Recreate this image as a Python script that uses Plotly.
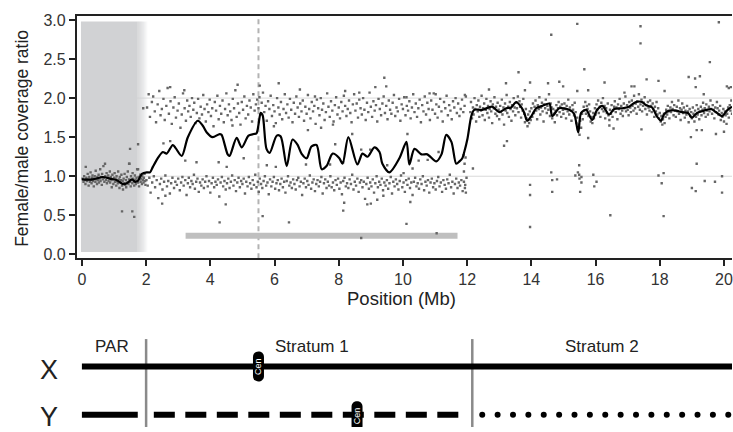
import numpy as np
import plotly.graph_objects as go

# ---------------- data ----------------
tick_mb = [0, 2, 4, 6, 8, 10, 12, 14, 16, 18, 20]
ratio_ticks = [0.0, 0.5, 1.0, 1.5, 2.0, 2.5, 3.0]

# window coverage ratios, pseudoautosomal region (0-2 Mb)
par_points = [
    (0.02, 0.97), (0.05, 0.93), (0.07, 1.0), (0.09, 0.95), (0.11, 0.9), (0.12, 1.12), (0.14, 0.98), (0.16, 0.94),
    (0.18, 1.03), (0.2, 0.96), (0.21, 0.88), (0.23, 0.99), (0.25, 0.93), (0.27, 1.05), (0.28, 0.95), (0.3, 0.91),
    (0.32, 0.98), (0.33, 1.01), (0.35, 0.94), (0.37, 0.87), (0.38, 0.97), (0.4, 1.0), (0.42, 0.93), (0.43, 1.07),
    (0.45, 0.96), (0.47, 0.9), (0.48, 0.99), (0.5, 0.95), (0.52, 1.02), (0.53, 0.92), (0.55, 0.97), (0.57, 1.09),
    (0.58, 0.94), (0.6, 0.99), (0.62, 0.89), (0.63, 1.03), (0.65, 0.96), (0.67, 1.13), (0.68, 0.98), (0.7, 0.93),
    (0.72, 1.16), (0.73, 1.0), (0.75, 0.95), (0.77, 1.04), (0.78, 0.91), (0.8, 0.98), (0.82, 1.01), (0.83, 0.94),
    (0.85, 0.97), (0.87, 1.06), (0.88, 0.92), (0.9, 0.99), (0.92, 0.95), (0.93, 0.86), (0.95, 1.02), (0.97, 0.96),
    (0.98, 0.9), (1.0, 0.98), (1.02, 1.04), (1.03, 0.93), (1.05, 0.97), (1.07, 0.88), (1.08, 1.0), (1.1, 0.94),
    (1.12, 0.91), (1.13, 1.06), (1.15, 0.96), (1.17, 0.85), (1.18, 0.99), (1.2, 0.92), (1.22, 0.95), (1.23, 1.02),
    (1.25, 0.88), (1.27, 0.94), (1.28, 0.83), (1.3, 0.97), (1.32, 0.91), (1.33, 1.03), (1.35, 0.89), (1.37, 0.95),
    (1.38, 0.86), (1.4, 0.99), (1.42, 0.92), (1.43, 1.06), (1.45, 0.9), (1.47, 0.96), (1.48, 1.16), (1.5, 0.93),
    (1.52, 0.87), (1.53, 1.0), (1.55, 0.95), (1.57, 0.91), (1.58, 1.04), (1.6, 0.97), (1.62, 0.93), (1.63, 0.88),
    (1.65, 1.01), (1.67, 0.95), (1.68, 0.9), (1.7, 0.98), (1.72, 1.09), (1.73, 0.94), (1.75, 0.92), (1.77, 0.99),
    (1.78, 0.87), (1.8, 0.96), (1.82, 1.02), (1.83, 0.93), (1.85, 0.97), (1.87, 0.9), (1.88, 1.0), (1.9, 0.95),
    (1.92, 0.92), (1.93, 0.98), (1.95, 1.03), (1.97, 0.94), (1.98, 0.89),
]

# stratum 1 windows with X-like coverage (upper band)
s1_upper = [
    (2.03, 1.88), (2.08, 2.05), (2.12, 1.76), (2.18, 1.95), (2.22, 2.02), (2.27, 1.83), (2.31, 1.69), (2.36, 1.92),
    (2.41, 2.09), (2.45, 1.78), (2.49, 1.86), (2.54, 1.99), (2.58, 1.72), (2.63, 1.9), (2.67, 2.13), (2.71, 1.8),
    (2.76, 1.96), (2.8, 1.67), (2.85, 1.88), (2.89, 2.01), (2.93, 1.75), (2.98, 1.84), (3.02, 1.93), (3.07, 1.62),
    (3.11, 1.79), (3.15, 2.06), (3.2, 1.87), (3.24, 1.71), (3.28, 1.97), (3.31, 1.83), (3.35, 1.9), (3.39, 1.76),
    (3.43, 2.0), (3.47, 1.85), (3.5, 1.94), (3.54, 1.68), (3.58, 1.81), (3.62, 1.99), (3.66, 1.74), (3.7, 1.89),
    (3.74, 1.79), (3.78, 2.04), (3.82, 1.86), (3.86, 1.7), (3.9, 1.92), (3.94, 1.82), (3.98, 1.98), (4.02, 1.77),
    (4.06, 1.87), (4.1, 1.64), (4.14, 1.95), (4.18, 1.84), (4.22, 2.03), (4.26, 1.73), (4.3, 1.9), (4.34, 1.8),
    (4.38, 1.97), (4.42, 1.69), (4.46, 1.86), (4.5, 2.06), (4.54, 1.78), (4.58, 1.92), (4.62, 1.83), (4.66, 1.72),
    (4.7, 1.99), (4.74, 1.87), (4.78, 2.1), (4.82, 1.76), (4.86, 1.93), (4.9, 1.81), (4.94, 1.66), (4.98, 1.95),
    (5.02, 1.85), (5.06, 2.02), (5.1, 1.74), (5.14, 1.9), (5.18, 1.79), (5.22, 1.97), (5.26, 1.88), (5.3, 1.7),
    (5.34, 2.05), (5.38, 1.84), (5.42, 1.92), (5.46, 1.98), (5.5, 1.87), (5.53, 2.01), (5.56, 1.79), (5.6, 1.94),
    (5.64, 2.07), (5.68, 1.82), (5.72, 1.9), (5.76, 1.71), (5.8, 1.96), (5.84, 1.86), (5.88, 2.03), (5.92, 1.77),
    (5.96, 1.91), (6.0, 1.83), (6.04, 1.68), (6.08, 2.0), (6.12, 1.88), (6.16, 1.79), (6.2, 1.95), (6.24, 1.73),
    (6.28, 1.86), (6.32, 2.05), (6.36, 1.81), (6.4, 1.92), (6.44, 1.75), (6.48, 1.99), (6.52, 1.85), (6.56, 1.69),
    (6.6, 1.94), (6.64, 1.8), (6.68, 2.02), (6.72, 1.88), (6.76, 1.76), (6.8, 1.93), (6.84, 1.83), (6.88, 1.97),
    (6.92, 1.71), (6.96, 1.89), (7.0, 1.8), (7.04, 2.04), (7.08, 1.86), (7.12, 1.74), (7.16, 1.95), (7.2, 1.83),
    (7.24, 1.9), (7.28, 1.67), (7.32, 1.98), (7.36, 1.87), (7.4, 1.78), (7.44, 2.0), (7.48, 1.85), (7.52, 1.93),
    (7.56, 1.72), (7.6, 1.82), (7.64, 2.06), (7.68, 1.89), (7.72, 1.76), (7.76, 1.96), (7.8, 1.84), (7.84, 1.7),
    (7.88, 1.91), (7.92, 2.01), (7.96, 1.79), (8.0, 1.88), (8.04, 1.74), (8.08, 1.95), (8.12, 1.83), (8.16, 2.03),
    (8.2, 1.9), (8.24, 1.77), (8.28, 1.86), (8.32, 1.97), (8.36, 1.81), (8.4, 1.69), (8.44, 1.92), (8.48, 2.05),
    (8.52, 1.84), (8.56, 1.93), (8.6, 1.75), (8.64, 1.98), (8.68, 1.87), (8.72, 1.79), (8.76, 2.0), (8.8, 1.85),
    (8.84, 1.72), (8.88, 1.94), (8.92, 1.82), (8.96, 2.07), (9.0, 1.89), (9.04, 1.76), (9.08, 1.96), (9.12, 1.84),
    (9.16, 1.91), (9.2, 1.7), (9.24, 1.99), (9.28, 1.86), (9.32, 1.78), (9.36, 1.93), (9.4, 2.02), (9.44, 1.81),
    (9.48, 1.9), (9.52, 1.73), (9.56, 1.97), (9.6, 1.85), (9.64, 1.8), (9.68, 1.94), (9.72, 2.04), (9.76, 1.77),
    (9.8, 1.88), (9.84, 1.83), (9.88, 1.99), (9.92, 1.71), (9.96, 1.92), (10.0, 1.86), (10.04, 2.01), (10.08, 1.78),
    (10.12, 1.9), (10.16, 1.84), (10.2, 1.96), (10.24, 1.74), (10.28, 1.88), (10.32, 2.05), (10.36, 1.82), (10.4, 1.93),
    (10.44, 1.76), (10.48, 1.87), (10.52, 1.98), (10.56, 1.69), (10.6, 1.91), (10.64, 1.83), (10.68, 2.02), (10.72, 1.79),
    (10.76, 1.94), (10.8, 1.86), (10.84, 1.72), (10.88, 1.97), (10.92, 1.85), (10.96, 2.06), (11.0, 1.8), (11.04, 1.92),
    (11.08, 1.75), (11.12, 1.89), (11.16, 1.99), (11.2, 1.83), (11.24, 1.7), (11.28, 1.95), (11.32, 1.87), (11.36, 2.03),
    (11.4, 1.78), (11.44, 1.91), (11.48, 1.84), (11.52, 1.73), (11.56, 1.96), (11.6, 1.88), (11.64, 2.0), (11.68, 1.81),
    (11.72, 1.93), (11.76, 1.77), (11.8, 1.86), (11.84, 1.98), (11.88, 1.82), (11.92, 1.9), (11.96, 2.02),
]

# stratum 1 windows with autosome-like coverage (lower band)
s1_lower = [
    (2.01, 0.95), (2.05, 0.88), (2.1, 0.98), (2.14, 0.79), (2.19, 0.92), (2.24, 1.0), (2.28, 0.86), (2.33, 0.95),
    (2.38, 0.72), (2.43, 0.9), (2.47, 0.97), (2.51, 0.83), (2.56, 0.93), (2.6, 1.01), (2.65, 0.87), (2.69, 0.94),
    (2.74, 0.78), (2.78, 0.91), (2.82, 0.98), (2.87, 0.85), (2.91, 0.93), (2.96, 0.89), (3.0, 0.97), (3.05, 0.82),
    (3.09, 0.92), (3.13, 0.99), (3.17, 0.88), (3.22, 0.95), (3.26, 0.76), (3.3, 0.91), (3.33, 0.98), (3.37, 0.86),
    (3.41, 0.94), (3.45, 0.9), (3.49, 1.02), (3.52, 0.84), (3.56, 0.93), (3.6, 0.97), (3.64, 0.8), (3.68, 0.92),
    (3.72, 0.88), (3.76, 0.96), (3.8, 0.85), (3.84, 0.93), (3.88, 1.0), (3.92, 0.87), (3.96, 0.94), (4.0, 0.79),
    (4.04, 0.91), (4.08, 0.98), (4.12, 0.86), (4.16, 0.93), (4.2, 0.89), (4.24, 0.96), (4.28, 0.74), (4.32, 0.92),
    (4.36, 0.99), (4.4, 0.87), (4.44, 0.94), (4.48, 0.83), (4.52, 0.91), (4.56, 0.97), (4.6, 0.85), (4.64, 0.93),
    (4.68, 1.01), (4.72, 0.88), (4.76, 0.95), (4.8, 0.81), (4.84, 0.92), (4.88, 0.98), (4.92, 0.86), (4.96, 0.94),
    (5.0, 0.9), (5.04, 0.97), (5.08, 0.78), (5.12, 0.93), (5.16, 0.87), (5.2, 0.99), (5.24, 0.91), (5.28, 0.84),
    (5.32, 0.95), (5.36, 0.89), (5.4, 1.02), (5.44, 0.86), (5.48, 0.93), (5.51, 0.8), (5.54, 0.97), (5.58, 0.9),
    (5.62, 0.85), (5.66, 0.94), (5.7, 1.0), (5.74, 0.88), (5.78, 0.92), (5.82, 0.77), (5.86, 0.96), (5.9, 0.87),
    (5.94, 0.93), (5.98, 0.99), (6.02, 0.84), (6.06, 0.91), (6.1, 0.95), (6.14, 0.82), (6.18, 0.9), (6.22, 0.97),
    (6.26, 0.86), (6.3, 0.93), (6.34, 0.79), (6.38, 0.94), (6.42, 1.0), (6.46, 0.88), (6.5, 0.92), (6.54, 0.85),
    (6.58, 0.96), (6.62, 0.9), (6.66, 0.83), (6.7, 0.95), (6.74, 0.98), (6.78, 0.87), (6.82, 0.93), (6.86, 0.76),
    (6.9, 0.91), (6.94, 0.97), (6.98, 0.86), (7.02, 0.94), (7.06, 0.89), (7.1, 1.01), (7.14, 0.84), (7.18, 0.92),
    (7.22, 0.96), (7.26, 0.81), (7.3, 0.9), (7.34, 0.95), (7.38, 0.87), (7.42, 0.93), (7.46, 0.99), (7.5, 0.78),
    (7.54, 0.91), (7.58, 0.96), (7.62, 0.85), (7.66, 0.93), (7.7, 0.88), (7.74, 1.0), (7.78, 0.86), (7.82, 0.92),
    (7.86, 0.82), (7.9, 0.95), (7.94, 0.89), (7.98, 0.97), (8.02, 0.84), (8.06, 0.92), (8.1, 0.77), (8.14, 0.94),
    (8.18, 0.98), (8.22, 0.87), (8.26, 0.91), (8.3, 0.85), (8.34, 0.96), (8.38, 0.9), (8.42, 1.02), (8.46, 0.83),
    (8.5, 0.93), (8.54, 0.88), (8.58, 0.97), (8.62, 0.8), (8.66, 0.92), (8.7, 0.95), (8.74, 0.86), (8.78, 0.93),
    (8.82, 0.71), (8.86, 0.9), (8.9, 0.98), (8.94, 0.84), (8.98, 0.92), (9.02, 0.87), (9.06, 0.96), (9.1, 0.79),
    (9.14, 0.91), (9.18, 1.0), (9.22, 0.86), (9.26, 0.93), (9.3, 0.89), (9.34, 0.97), (9.38, 0.82), (9.42, 0.92),
    (9.46, 0.88), (9.5, 0.95), (9.54, 0.84), (9.58, 0.91), (9.62, 0.99), (9.66, 0.78), (9.7, 0.93), (9.74, 0.87),
    (9.78, 0.96), (9.82, 0.9), (9.86, 0.83), (9.9, 0.94), (9.94, 1.01), (9.98, 0.86), (10.02, 0.92), (10.06, 0.8),
    (10.1, 0.95), (10.14, 0.89), (10.18, 0.97), (10.22, 0.85), (10.26, 0.92), (10.3, 0.76), (10.34, 0.93), (10.38, 0.98),
    (10.42, 0.87), (10.46, 0.91), (10.5, 0.84), (10.54, 0.96), (10.58, 0.9), (10.62, 1.0), (10.66, 0.82), (10.7, 0.93),
    (10.74, 0.88), (10.78, 0.95), (10.82, 0.79), (10.86, 0.92), (10.9, 0.97), (10.94, 0.86), (10.98, 0.91), (11.02, 0.83),
    (11.06, 0.94), (11.1, 0.99), (11.14, 0.87), (11.18, 0.92), (11.22, 0.8), (11.26, 0.95), (11.3, 0.89), (11.34, 0.84),
    (11.38, 0.96), (11.42, 0.91), (11.46, 1.02), (11.5, 0.86), (11.54, 0.93), (11.58, 0.78), (11.62, 0.9), (11.66, 0.97),
    (11.7, 0.85), (11.74, 0.92), (11.78, 0.88), (11.82, 0.95), (11.86, 0.81), (11.9, 0.93), (11.94, 0.89), (11.98, 0.98),
]

# stratum 2 windows (12-20.3 Mb)
s2_points = [
    (12.1, 1.82), (12.12, 1.95), (12.15, 1.74), (12.18, 1.88), (12.2, 1.79), (12.23, 2.0), (12.25, 1.86), (12.28, 1.7),
    (12.3, 1.91), (12.33, 1.83), (12.35, 1.97), (12.38, 1.76), (12.4, 1.89), (12.43, 1.84), (12.45, 2.03), (12.48, 1.78),
    (12.5, 1.87), (12.53, 1.93), (12.55, 1.72), (12.58, 1.85), (12.6, 1.99), (12.63, 1.81), (12.65, 1.9), (12.68, 1.75),
    (12.7, 1.86), (12.73, 1.96), (12.75, 1.83), (12.78, 1.68), (12.8, 1.92), (12.83, 1.87), (12.85, 2.01), (12.88, 1.8),
    (12.9, 1.89), (12.93, 1.77), (12.95, 1.94), (12.98, 1.85),
    (13.0, 1.73), (13.03, 1.9), (13.05, 1.82), (13.08, 1.98), (13.1, 1.79), (13.13, 1.88), (13.15, 1.66), (13.18, 1.93),
    (13.2, 1.84), (13.23, 2.04), (13.25, 1.81), (13.28, 1.89), (13.3, 1.76), (13.33, 1.95), (13.35, 1.86), (13.38, 1.71),
    (13.4, 1.91), (13.43, 1.83), (13.45, 2.0), (13.48, 1.88), (13.5, 1.78), (13.53, 1.94), (13.55, 1.87), (13.58, 2.02),
    (13.6, 1.82), (13.63, 1.96), (13.65, 1.89), (13.68, 1.75), (13.7, 1.92), (13.73, 1.84), (13.75, 1.99), (13.78, 1.8),
    (13.8, 1.69), (13.83, 1.86), (13.85, 1.74), (13.88, 1.64), (13.9, 1.79), (13.93, 1.68), (13.95, 1.83), (13.98, 1.72),
    (14.0, 1.87), (14.03, 1.76), (14.05, 1.93), (14.08, 1.81), (14.1, 1.89), (14.13, 1.97), (14.15, 1.84), (14.18, 1.73),
    (14.2, 1.91), (14.23, 1.86), (14.25, 2.01), (14.28, 1.79), (14.3, 1.88), (14.33, 1.94), (14.35, 1.83), (14.38, 1.7),
    (14.4, 1.92), (14.43, 1.87), (14.45, 1.98), (14.48, 1.81), (14.5, 1.9), (14.53, 1.85), (14.55, 2.05), (14.58, 1.77),
    (14.6, 1.93), (14.63, 1.88), (14.65, 1.74), (14.68, 1.86), (14.7, 1.8), (14.73, 1.69), (14.75, 1.84), (14.78, 1.91),
    (14.8, 1.78), (14.83, 1.87), (14.85, 1.95), (14.88, 1.82), (14.9, 1.89), (14.93, 1.76), (14.95, 1.92), (14.98, 1.85),
    (15.0, 1.8), (15.03, 1.93), (15.05, 1.86), (15.08, 1.74), (15.1, 1.9), (15.13, 1.83), (15.15, 1.98), (15.18, 1.79),
    (15.2, 1.88), (15.23, 1.84), (15.25, 1.71), (15.28, 1.91), (15.3, 1.85), (15.33, 1.78), (15.35, 1.94), (15.38, 1.82),
    (15.4, 1.68), (15.43, 1.75), (15.45, 1.6), (15.48, 1.66), (15.5, 1.53), (15.52, 1.71), (15.55, 1.62), (15.58, 1.8),
    (15.6, 1.73), (15.63, 1.89), (15.65, 1.84), (15.68, 1.95), (15.7, 1.8), (15.73, 1.9), (15.75, 1.86), (15.78, 1.77),
    (15.8, 1.92), (15.83, 1.83), (15.85, 1.7), (15.88, 1.76), (15.9, 1.68), (15.93, 1.81), (15.95, 1.74), (15.98, 1.87),
    (16.0, 1.79), (16.03, 1.92), (16.05, 1.85), (16.08, 1.97), (16.1, 1.81), (16.13, 1.89), (16.15, 1.76), (16.18, 1.94),
    (16.2, 1.86), (16.23, 2.0), (16.25, 1.83), (16.28, 1.9), (16.3, 1.74), (16.33, 1.87), (16.35, 1.81), (16.38, 1.93),
    (16.4, 1.78), (16.43, 1.72), (16.45, 1.85), (16.48, 1.8), (16.5, 1.91), (16.53, 1.76), (16.55, 1.84), (16.58, 1.89),
    (16.6, 1.96), (16.63, 1.82), (16.65, 1.88), (16.68, 1.73), (16.7, 1.92), (16.73, 1.86), (16.75, 1.99), (16.78, 1.8),
    (16.8, 1.9), (16.83, 1.84), (16.85, 1.77), (16.88, 1.93), (16.9, 1.87), (16.93, 2.02), (16.95, 1.83), (16.98, 1.91),
    (17.0, 1.85), (17.03, 1.78), (17.05, 1.95), (17.08, 1.88), (17.1, 1.82), (17.13, 1.97), (17.15, 1.9), (17.18, 1.84),
    (17.2, 2.03), (17.23, 1.87), (17.25, 1.93), (17.28, 1.8), (17.3, 1.96), (17.33, 1.89), (17.35, 2.05), (17.38, 1.85),
    (17.4, 1.92), (17.43, 1.98), (17.45, 1.83), (17.48, 1.9), (17.5, 1.94), (17.53, 2.01), (17.55, 1.86), (17.58, 1.91),
    (17.6, 1.79), (17.63, 1.95), (17.65, 1.88), (17.68, 1.84), (17.7, 1.97), (17.73, 1.9), (17.75, 1.82), (17.78, 1.93),
    (17.8, 1.86), (17.83, 1.76), (17.85, 1.89), (17.88, 1.83), (17.9, 1.95), (17.93, 1.79), (17.95, 1.87), (17.98, 1.74),
    (18.0, 1.81), (18.03, 1.7), (18.05, 1.77), (18.08, 1.66), (18.1, 1.73), (18.13, 1.8), (18.15, 1.68), (18.18, 1.76),
    (18.2, 1.85), (18.23, 1.79), (18.25, 1.9), (18.28, 1.83), (18.3, 1.74), (18.33, 1.88), (18.35, 1.82), (18.38, 1.95),
    (18.4, 1.86), (18.43, 1.78), (18.45, 1.91), (18.48, 1.84), (18.5, 1.76), (18.53, 1.89), (18.55, 1.83), (18.58, 1.97),
    (18.6, 1.8), (18.63, 1.87), (18.65, 1.72), (18.68, 1.85), (18.7, 1.93), (18.73, 1.81), (18.75, 1.88), (18.78, 1.75),
    (18.8, 1.84), (18.83, 1.79), (18.85, 1.9), (18.88, 1.83), (18.9, 1.69), (18.93, 1.86), (18.95, 1.77), (18.98, 1.82),
    (19.0, 1.74), (19.03, 1.88), (19.05, 1.8), (19.08, 1.7), (19.1, 1.84), (19.13, 1.76), (19.15, 1.91), (19.18, 1.79),
    (19.2, 1.86), (19.23, 1.73), (19.25, 1.83), (19.28, 1.89), (19.3, 1.78), (19.33, 1.85), (19.35, 1.94), (19.38, 1.81),
    (19.4, 1.87), (19.43, 1.76), (19.45, 1.92), (19.48, 1.84), (19.5, 1.79), (19.53, 1.89), (19.55, 1.83), (19.58, 1.97),
    (19.6, 1.86), (19.63, 1.8), (19.65, 1.91), (19.68, 1.85), (19.7, 1.74), (19.73, 1.88), (19.75, 1.82), (19.78, 1.95),
    (19.8, 1.87), (19.83, 1.79), (19.85, 1.84), (19.88, 1.9), (19.9, 1.72), (19.93, 1.81), (19.95, 1.76), (19.98, 1.86),
    (20.0, 1.7), (20.03, 1.83), (20.05, 1.78), (20.08, 1.67), (20.1, 1.8), (20.13, 1.88), (20.15, 1.75), (20.18, 1.91),
    (20.2, 1.84), (20.23, 1.97), (20.25, 1.8),
]

# scattered windows away from the main bands
outliers = [
    (1.25, 0.55), (1.57, 0.55), (1.63, 0.48), (1.47, 1.16), (1.75, 1.09), (1.75, 1.41), (1.5, 1.35), (1.91, 1.87),
    (2.5, 0.65), (2.6, 0.75), (2.54, 1.42), (2.75, 1.45), (2.75, 2.14), (3.19, 2.1), (3.22, 1.2), (3.57, 1.18),
    (4.26, 1.18), (4.29, 0.41), (4.48, 0.64), (4.51, 1.12), (4.69, 1.65), (4.85, 2.17), (5.04, 1.23), (5.54, 2.16),
    (5.63, 0.49), (5.76, 1.14), (5.98, 1.64), (6.04, 1.12), (6.13, 2.19), (6.45, 0.41), (6.79, 2.11), (6.98, 1.15),
    (7.04, 1.59), (7.26, 2.02), (7.45, 1.62), (7.73, 1.15), (7.82, 1.66), (7.89, 1.41), (8.14, 0.56), (8.17, 0.66),
    (8.14, 1.18), (8.2, 2.09), (8.42, 1.54), (8.64, 2.07), (8.7, 0.21), (8.7, 1.34), (8.89, 0.64), (8.98, 1.34),
    (9.0, 0.65), (9.14, 2.14), (9.2, 0.7), (9.39, 0.75), (9.42, 2.26), (9.48, 2.15), (9.51, 1.14), (10.02, 1.04),
    (10.11, 0.39), (10.11, 2.01), (10.14, 1.54), (10.23, 0.67), (10.3, 1.1), (10.49, 1.2), (10.77, 1.21), (10.83, 2.06),
    (11.02, 2.05), (11.05, 0.27), (11.11, 1.31), (11.89, 1.27), (11.92, 1.16), (11.93, 2.04), (11.93, 0.85),
    (11.96, 0.79), (11.95, 1.24), (11.9, 1.06), (12.18, 1.1),
    (12.68, 2.11), (13.15, 1.39), (13.21, 2.19), (13.24, 1.45), (13.6, 2.33), (13.8, 2.1), (13.96, 2.2), (13.96, 0.89),
    (13.96, 0.76), (13.96, 0.35), (14.52, 2.19), (14.62, 2.81), (14.62, 1.05), (14.65, 0.95), (14.65, 0.8),
    (14.8, 0.96), (14.87, 2.21), (14.99, 2.15), (15.37, 1.01), (15.43, 2.95), (15.43, 2.09), (15.45, 1.05),
    (15.49, 1.14), (15.49, 1.02), (15.5, 0.97), (15.52, 0.8), (15.56, 0.99), (15.56, 0.92), (15.65, 2.37),
    (15.77, 2.1), (15.77, 1.49), (15.93, 1.02), (15.96, 0.87), (16.03, 0.93), (16.28, 2.2), (16.43, 1.65),
    (16.46, 0.5), (16.56, 1.61), (16.9, 2.07), (17.12, 2.15), (17.21, 2.15), (17.4, 2.92), (17.4, 2.7), (17.43, 1.6),
    (17.59, 2.24), (17.96, 2.22), (17.96, 1.01), (18.06, 0.91), (18.12, 1.04), (18.12, 0.49), (18.15, 2.09),
    (18.9, 2.27), (18.97, 1.5), (19.0, 0.85), (19.1, 2.25), (19.12, 2.14), (19.12, 0.81), (19.15, 1.59), (19.15, 1.16),
    (19.25, 2.28), (19.31, 1.59), (19.37, 2.05), (19.4, 0.94), (19.56, 2.46), (19.72, 0.93), (19.75, 1.54),
    (19.84, 2.97), (19.94, 1.0), (19.94, 0.79), (20.0, 1.57), (20.09, 2.15), (20.15, 2.13), (20.22, 2.14),
]

# smoothed ratio along the chromosome
smooth_mb = [
    0.0, 0.34, 0.65, 0.87, 1.09, 1.28, 1.40, 1.56, 1.65, 1.74, 1.87, 2.02, 2.12, 2.21, 2.36, 2.52, 2.64, 2.83, 2.92,
    3.11, 3.30, 3.61, 3.76, 3.89, 4.07, 4.29, 4.35, 4.54, 4.60, 4.82, 4.98, 5.19, 5.35, 5.44, 5.57, 5.63, 5.75, 5.85,
    6.07, 6.19, 6.38, 6.56, 6.72, 6.84, 7.00, 7.15, 7.31, 7.47, 7.62, 7.81, 8.02, 8.12, 8.30, 8.58, 8.74, 8.90, 9.11,
    9.27, 9.36, 9.58, 9.89, 10.11, 10.20, 10.36, 10.58, 10.76, 11.04, 11.20, 11.35, 11.51, 11.66, 11.76, 11.85, 11.91,
    12.01, 12.13, 12.22, 12.47, 12.78, 13.00, 13.22, 13.37, 13.53, 13.69, 13.78, 13.87, 14.00, 14.15, 14.34, 14.56,
    14.65, 14.87, 15.18, 15.33, 15.46, 15.55, 15.71, 15.89, 16.05, 16.21, 16.42, 16.58, 16.83, 17.04, 17.26, 17.45,
    17.57, 17.76, 17.92, 18.04, 18.13, 18.29, 18.51, 18.69, 18.88, 19.00, 19.16, 19.38, 19.60, 19.75, 19.94, 20.09,
    20.25,
]
smooth_ratio = [
    0.96, 0.96, 0.99, 0.97, 0.95, 0.90, 0.91, 0.96, 0.93, 0.94, 1.03, 1.05, 1.05, 1.12, 1.23, 1.31, 1.29, 1.40, 1.36,
    1.26, 1.50, 1.71, 1.65, 1.56, 1.50, 1.54, 1.53, 1.28, 1.26, 1.49, 1.37, 1.52, 1.54, 1.55, 1.81, 1.78, 1.35, 1.30,
    1.52, 1.51, 1.13, 1.47, 1.40, 1.29, 1.23, 1.38, 1.40, 1.09, 1.13, 1.29, 1.23, 1.16, 1.50, 1.15, 1.29, 1.25, 1.37,
    1.31, 1.16, 1.05, 1.23, 1.44, 1.15, 1.35, 1.28, 1.28, 1.19, 1.28, 1.53, 1.44, 1.16, 1.19, 1.23, 1.31,
    1.48, 1.77, 1.85, 1.85, 1.89, 1.82, 1.87, 1.88, 1.95, 1.88, 1.81, 1.71, 1.77, 1.87, 1.90, 1.93,
    1.77, 1.87, 1.85, 1.80, 1.56, 1.81, 1.85, 1.72, 1.85, 1.90, 1.79, 1.86, 1.87, 1.89, 1.95, 1.95,
    1.91, 1.88, 1.76, 1.71, 1.79, 1.84, 1.84, 1.82, 1.81, 1.75, 1.81, 1.84, 1.86, 1.82, 1.77, 1.84,
    1.89,
]

# chromosome map (Mb)
par_end = 2.0
stratum1_end = 12.16
centromere_x = 5.5
centromere_y = 8.57
region_span = (3.23, 11.7)
region_level = 0.24

# ---------------- figure ----------------
W, H = 733, 432
X_RANGE = [-0.156, 20.25]
X_DOM = [77 / W, 1.0]
FONT = "Liberation Sans, Arial, Helvetica, sans-serif"
INK = "#222222"

fig = go.Figure()

pts = par_points + s1_upper + s1_lower + s2_points + outliers
fig.add_trace(go.Scatter(
    x=[p[0] for p in pts], y=[p[1] for p in pts], mode="markers",
    marker=dict(size=2.4, color="#666666", symbol="square", line=dict(width=0)),
    hoverinfo="skip", showlegend=False, xaxis="x", yaxis="y"))
fig.add_trace(go.Scatter(
    x=smooth_mb, y=smooth_ratio, mode="lines",
    line=dict(color="black", width=2.2, shape="spline", smoothing=0.8),
    hoverinfo="skip", showlegend=False, xaxis="x", yaxis="y"))

shapes = []
# reference levels
for lvl in (1.0, 2.0):
    shapes.append(dict(type="line", xref="x", yref="y", x0=1.7, x1=X_RANGE[1], y0=lvl, y1=lvl,
                       line=dict(color="#d9d9d9", width=1), layer="below"))
# shaded PAR with a soft right edge
shade_rgb = "209,210,212"
solid_end, fade_end = 1.74, 2.06
shapes.append(dict(type="rect", xref="x", yref="y", x0=-0.03, x1=solid_end, y0=0.03, y1=2.98,
                   fillcolor=f"rgb({shade_rgb})", line=dict(width=0), layer="below"))
n_fade = 10
for i in range(n_fade):
    a0 = solid_end + (fade_end - solid_end) * i / n_fade
    a1 = solid_end + (fade_end - solid_end) * (i + 1) / n_fade
    alpha = 1 - (i + 0.5) / n_fade
    shapes.append(dict(type="rect", xref="x", yref="y", x0=a0, x1=a1, y0=0.03, y1=2.98,
                       fillcolor=f"rgba({shade_rgb},{alpha:.2f})", line=dict(width=0), layer="below"))
# centromere marker line
shapes.append(dict(type="line", xref="x", yref="y", x0=centromere_x, x1=centromere_x, y0=-0.05, y1=3.045,
                   line=dict(color="#b3b3b3", width=2, dash="5px,4px"), layer="below"))
# span bar
shapes.append(dict(type="line", xref="x", yref="y", x0=region_span[0], x1=region_span[1],
                   y0=region_level, y1=region_level, line=dict(color="#bfbfbf", width=6), layer="below"))

# ---- chromosome diagram (bottom) ----
Y2_RANGE = [-0.2525, 2.3737]
for bx in (par_end, stratum1_end):
    shapes.append(dict(type="line", xref="x2", yref="y2", x0=bx, x1=bx, y0=Y2_RANGE[0], y1=1.566,
                       line=dict(color="#8a8a8a", width=2.5), layer="below"))

pill = "M-5.5,-9.5 L-5.5,9.5 C-5.5,16.8 5.5,16.8 5.5,9.5 L5.5,-9.5 C5.5,-16.8 -5.5,-16.8 -5.5,-9.5 Z"
for cx, cy in ((centromere_x, 1.0), (centromere_y, -0.03)):
    shapes.append(dict(type="path", xref="x2", yref="y2", xsizemode="pixel", ysizemode="pixel",
                       xanchor=cx, yanchor=cy, path=pill, fillcolor="black",
                       line=dict(width=0), layer="above"))

# X chromosome: continuous
fig.add_trace(go.Scatter(x=[0.0, X_RANGE[1] + 0.2], y=[1, 1], mode="lines",
                         line=dict(color="black", width=6), hoverinfo="skip", showlegend=False,
                         xaxis="x2", yaxis="y2", cliponaxis=False))
# Y chromosome: PAR solid, stratum 1 dashed, stratum 2 dotted
fig.add_trace(go.Scatter(x=[0.0, 1.74], y=[0, 0], mode="lines",
                         line=dict(color="black", width=6), hoverinfo="skip", showlegend=False,
                         xaxis="x2", yaxis="y2"))
fig.add_trace(go.Scatter(x=[2.24, 11.85], y=[0, 0], mode="lines",
                         line=dict(color="black", width=6, dash="21px,10.5px"), hoverinfo="skip",
                         showlegend=False, xaxis="x2", yaxis="y2"))
dots = np.arange(12.47, X_RANGE[1] + 0.1, 0.479)
fig.add_trace(go.Scatter(x=dots, y=[0] * len(dots), mode="markers",
                         marker=dict(color="black", size=6, line=dict(width=0)), hoverinfo="skip",
                         showlegend=False, xaxis="x2", yaxis="y2", cliponaxis=False))

annotations = [
    dict(text="Position (Mb)", xref="paper", yref="paper", x=402 / W, y=(H - 300) / H,
         xanchor="center", yanchor="middle", showarrow=False, font=dict(size=18.5, color=INK)),
    dict(text="Female/male coverage ratio", xref="paper", yref="paper", x=22 / W, y=(H - 136) / H,
         xanchor="center", yanchor="middle", textangle=-90, showarrow=False, font=dict(size=17.5, color=INK)),
    dict(text="PAR", xref="x2", yref="y2", x=par_end / 2 - 0.05, y=1.404, showarrow=False,
         font=dict(size=17, color=INK)),
    dict(text="Stratum 1", xref="x2", yref="y2", x=(par_end + stratum1_end) / 2 + 0.1, y=1.404,
         showarrow=False, font=dict(size=17, color=INK)),
    dict(text="Stratum 2", xref="x2", yref="y2", x=(stratum1_end + X_RANGE[1]) / 2, y=1.404,
         showarrow=False, font=dict(size=17, color=INK)),
    dict(text="X", xref="paper", yref="y2", x=38 / W, y=0.92, showarrow=False,
         font=dict(size=27, color=INK)),
    dict(text="Y", xref="paper", yref="y2", x=38 / W, y=-0.04, showarrow=False,
         font=dict(size=27, color=INK)),
]
for cx, cy in ((centromere_x, 1.0), (centromere_y, -0.03)):
    annotations.append(dict(text="Cen", xref="x2", yref="y2", x=cx, y=cy, textangle=-90,
                            showarrow=False, font=dict(size=9, color="white")))

axis_common = dict(ticks="outside", ticklen=6, tickwidth=1.5, tickcolor=INK, showline=True,
                   linecolor=INK, linewidth=2, showgrid=False, zeroline=False,
                   tickfont=dict(size=16, color="#333333"))

fig.update_layout(
    width=W, height=H, margin=dict(l=0, r=0, t=0, b=0),
    paper_bgcolor="white", plot_bgcolor="rgba(0,0,0,0)",
    font=dict(family=FONT, color=INK), showlegend=False,
    xaxis=dict(domain=X_DOM, range=X_RANGE, tickvals=tick_mb, mirror=True, anchor="y",
               ticklabeloverflow="allow", **axis_common),
    yaxis=dict(domain=[(H - 259.3) / H, (H - 11.7) / H], range=[-0.05, 3.045], tickvals=ratio_ticks,
               tickformat=".1f", mirror=False, anchor="x", **axis_common),
    xaxis2=dict(domain=X_DOM, range=X_RANGE, visible=False, anchor="y2"),
    yaxis2=dict(domain=[0, 130 / H], range=Y2_RANGE, visible=False, anchor="x2"),
    shapes=shapes, annotations=annotations,
)

fig.write_html("out.html")
